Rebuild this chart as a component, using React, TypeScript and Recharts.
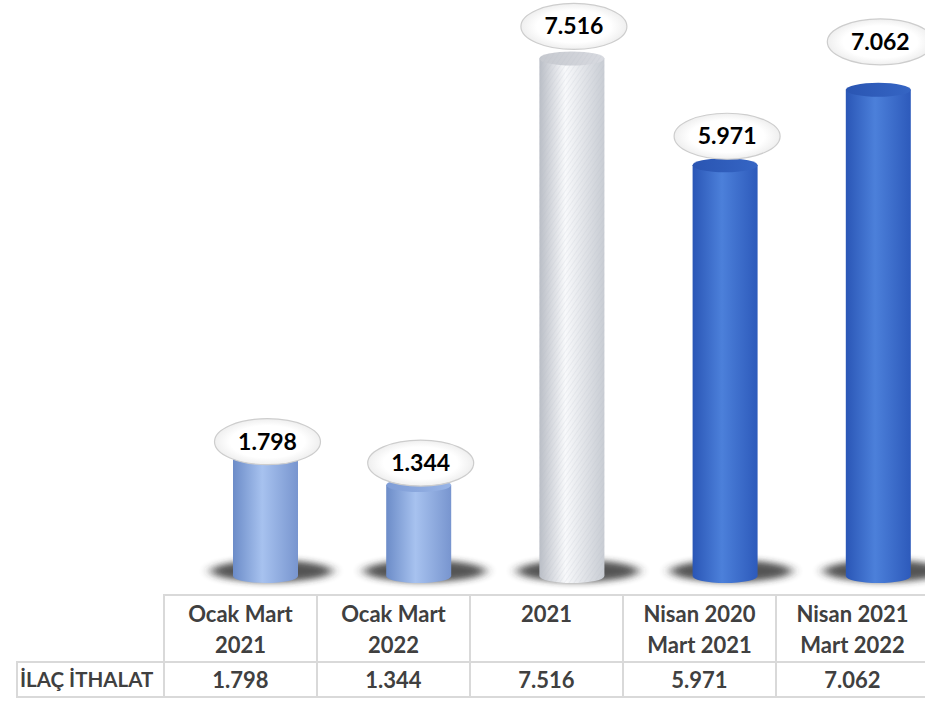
import React from 'react';
import { BarChart, Bar, XAxis, YAxis, LabelList } from 'recharts';

const categoryTop = ['Ocak Mart', 'Ocak Mart', '2021', 'Nisan 2020', 'Nisan 2021'];
const categoryBottom = ['2021', '2022', '', 'Mart 2021', 'Mart 2022'];
const values = [1.798, 1.344, 7.516, 5.971, 7.062];
const seriesName = 'İLAÇ İTHALAT';
const barKinds = ['light', 'light', 'hatch', 'dark', 'dark'];

const chartData = values.map((value, i) => ({
  name: `${categoryTop[i]} ${categoryBottom[i]}`.trim(),
  value,
  kind: barKinds[i],
}));

// how far each bubble sits above the top of its cylinder
const labelLift = [12, 22, 32, 29, 48];

const fmt = (v: number) => v.toFixed(3);

const Cylinder = (props: any) => {
  const { x, y, width, height, index } = props;
  const kind = barKinds[index];
  const rx = width / 2;
  const ry = 7;
  const cx = x + rx;
  const base = y + height - 2;
  const body = `M${x},${y} L${x},${base} A${rx},${ry} 0 0 0 ${x + width},${base} L${x + width},${y} Z`;
  return (
    <g>
      <ellipse cx={cx + 6} cy={base - 5} rx={rx + 28} ry={11} fill="#2a2a2a" opacity={0.8} filter="url(#shadowBlur)" />
      <path d={body} fill={`url(#body-${kind})`} />
      {kind === 'hatch' && <path d={body} fill="url(#hatchLines)" />}
      <ellipse cx={cx} cy={y} rx={rx} ry={ry} fill={`url(#top-${kind})`} />
      {kind === 'hatch' && <ellipse cx={cx} cy={y} rx={rx} ry={ry} fill="url(#hatchLines)" />}
    </g>
  );
};

const Bubble = (props: any) => {
  const { x, y, width, value, index } = props;
  const cx = x + width / 2 + 2;
  const cy = y - labelLift[index];
  return (
    <g>
      <ellipse cx={cx} cy={cy} rx={53} ry={23} fill="url(#bubbleFill)" stroke="#cdcdcd" strokeWidth={1.2} />
      <text x={cx} y={cy + 8} textAnchor="middle" fontSize={23} fontWeight={700} fill="#000" fontFamily="Lato, sans-serif">
        {fmt(value)}
      </text>
    </g>
  );
};

const cell: React.CSSProperties = {
  border: '2px solid #d9d9d9',
  textAlign: 'center',
  color: '#404040',
  fontWeight: 700,
  padding: 0,
};

const App: React.FC = () => {
  return (
    <div style={{ position: 'absolute', left: 0, top: 0, width: 925, height: 702, overflow: 'hidden', background: '#fff', fontFamily: 'Lato, sans-serif' }}>
      <BarChart width={955} height={702} data={chartData} margin={{ top: 25, right: 0, left: 189, bottom: 124 }}>
        <defs>
          <linearGradient id="body-light" x1="0" y1="0" x2="1" y2="0">
            <stop offset="0%" stopColor="#6c8cc8" />
            <stop offset="45%" stopColor="#a7c2ef" />
            <stop offset="100%" stopColor="#7895cf" />
          </linearGradient>
          <linearGradient id="top-light" x1="0" y1="0" x2="1" y2="0">
            <stop offset="0%" stopColor="#7f9dd6" />
            <stop offset="100%" stopColor="#98b4e6" />
          </linearGradient>
          <linearGradient id="body-dark" x1="0" y1="0" x2="1" y2="0">
            <stop offset="0%" stopColor="#2a56b6" />
            <stop offset="45%" stopColor="#4c80da" />
            <stop offset="100%" stopColor="#2d5abb" />
          </linearGradient>
          <linearGradient id="top-dark" x1="0" y1="0" x2="1" y2="0">
            <stop offset="0%" stopColor="#2a55b2" />
            <stop offset="100%" stopColor="#3565c4" />
          </linearGradient>
          <linearGradient id="body-hatch" x1="0" y1="0" x2="1" y2="0">
            <stop offset="0%" stopColor="#babec6" />
            <stop offset="40%" stopColor="#f8f9fb" />
            <stop offset="100%" stopColor="#c8ccd3" />
          </linearGradient>
          <linearGradient id="top-hatch" x1="0" y1="0" x2="1" y2="0">
            <stop offset="0%" stopColor="#c6c9cf" />
            <stop offset="100%" stopColor="#d8dae0" />
          </linearGradient>
          <pattern id="hatchLines" width="4" height="4" patternUnits="userSpaceOnUse" patternTransform="rotate(35)">
            <line x1="0" y1="0" x2="0" y2="4" stroke="#b4bac6" strokeWidth="1" opacity="0.35" />
          </pattern>
          <radialGradient id="bubbleFill" cx="50%" cy="50%" r="50%">
            <stop offset="70%" stopColor="#ffffff" />
            <stop offset="100%" stopColor="#efefef" />
          </radialGradient>
          <filter id="shadowBlur" x="-50%" y="-200%" width="200%" height="500%">
            <feGaussianBlur stdDeviation="6 3" />
          </filter>
        </defs>
        <XAxis dataKey="name" hide />
        <YAxis hide domain={[0, 8]} />
        <Bar dataKey="value" barSize={65} shape={<Cylinder />} isAnimationActive={false}>
          <LabelList dataKey="value" content={<Bubble />} />
        </Bar>
      </BarChart>
      <table
        style={{
          position: 'absolute',
          left: 16,
          top: 594,
          borderCollapse: 'collapse',
          tableLayout: 'fixed',
          width: 147 + 153 * 5,
          fontSize: 22,
          lineHeight: '31px',
        }}
      >
        <colgroup>
          <col style={{ width: 147 }} />
          {values.map((_, i) => (
            <col key={i} style={{ width: 153 }} />
          ))}
        </colgroup>
        <tbody>
          <tr style={{ height: 67 }}>
            <td style={{ ...cell, border: 'none', borderRight: '2px solid #d9d9d9' }} />
            {categoryTop.map((t, i) => (
              <td key={i} style={{ ...cell, verticalAlign: 'top', paddingTop: 2 }}>
                {t}
                <br />
                {categoryBottom[i] || '\u00a0'}
              </td>
            ))}
          </tr>
          <tr style={{ height: 35 }}>
            <td style={{ ...cell, textAlign: 'left', paddingLeft: 2, fontSize: 20.5, whiteSpace: 'nowrap' }}>{seriesName}</td>
            {values.map((v, i) => (
              <td key={i} style={cell}>
                {fmt(v)}
              </td>
            ))}
          </tr>
        </tbody>
      </table>
    </div>
  );
};

export default App;
